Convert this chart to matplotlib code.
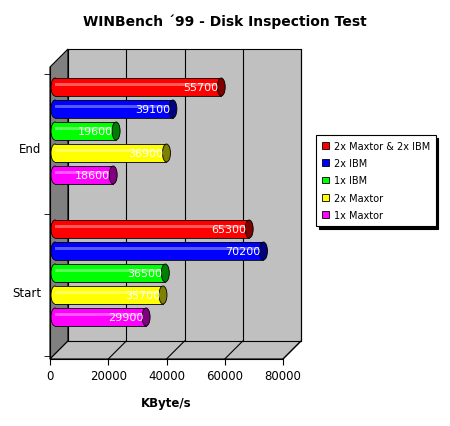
import matplotlib
matplotlib.use("Agg")
import matplotlib.pyplot as plt
from matplotlib.patches import Polygon, Rectangle, Ellipse

categories = ["End", "Start"]
series = ["2x Maxtor & 2x IBM", "2x IBM", "1x IBM", "2x Maxtor", "1x Maxtor"]
colors = ["#ff0000", "#0000ff", "#00ff00", "#ffff00", "#ff00ff"]
dark = ["#800000", "#000080", "#008000", "#808000", "#800080"]
values = {
    "End": [55700, 39100, 19600, 36900, 18600],
    "Start": [65300, 70200, 36500, 35700, 29900],
}

W, H = 450, 427
fig = plt.figure(figsize=(W / 100, H / 100), dpi=100)
ax = fig.add_axes([50 / W, 67 / H, 233 / W, 292 / H])
ax.set_xlim(0, 80000)
ax.set_ylim(0, 292)
px = 80000 / 233
dx, dy = 18 * px, 18

# walls
ax.add_patch(Polygon([(0, 0), (dx, dy), (dx, 292 + dy), (0, 292)], closed=True,
                     fc="#808080", ec="black", lw=0.8, clip_on=False, zorder=0.1))
ax.add_patch(Polygon([(0, 0), (80000, 0), (80000 + dx, dy), (dx, dy)], closed=True,
                     fc="#c0c0c0", ec="black", lw=0.8, clip_on=False, zorder=0.1))
ax.add_patch(Rectangle((dx, dy), 80000, 292, fc="#c0c0c0", ec="black", lw=0.8,
                       clip_on=False, zorder=0.1))
for v in range(20000, 80001, 20000):
    ax.plot([v + dx, v + dx], [dy, 292 + dy], color="black", lw=0.8, clip_on=False, zorder=0.2)
    ax.plot([v, v + dx], [0, dy], color="black", lw=0.8, clip_on=False, zorder=0.2)

# cylinders
centers = {"End": [263, 241, 219, 197, 175], "Start": [121, 99, 77, 55, 33]}
h = 18
ox, oy = 9 * px, 9
cap = 8 * px
for cat in categories:
    for i, s in enumerate(series):
        v = values[cat][i]
        y = centers[cat][i] + oy - h / 2
        x0 = 5 * px
        z = 2 + i * 0.1
        ax.add_patch(Ellipse((x0, y + h / 2), cap, h, fc=colors[i], ec="black", lw=0.6,
                             clip_on=False, zorder=z))
        ax.add_patch(Rectangle((x0, y), v + ox - x0, h, fc=colors[i], ec="none",
                               clip_on=False, zorder=z))
        ax.plot([x0, v + ox], [y, y], color="black", lw=0.6, clip_on=False, zorder=z)
        ax.plot([x0, v + ox], [y + h, y + h], color="black", lw=0.6, clip_on=False, zorder=z)
        ax.add_patch(Rectangle((x0, y + h * 0.55), v + ox - x0, h * 0.2, fc="white",
                               alpha=0.35, ec="none", clip_on=False, zorder=z))
        ax.add_patch(Ellipse((v + ox, y + h / 2), cap, h, fc=dark[i], ec="black", lw=0.6,
                             clip_on=False, zorder=z))
        ax.text(v + ox - 3 * px, y + h / 2, str(v), color="white", fontsize=8,
                ha="right", va="center", zorder=z + 0.05)

for s in ["top", "right", "left", "bottom"]:
    ax.spines[s].set_visible(False)
ax.plot([0, 0], [0, 292], color="black", lw=0.8, clip_on=False)
ax.plot([0, 80000], [0, 0], color="black", lw=0.8, clip_on=False)
ax.set_xticks(range(0, 80001, 20000))
ax.tick_params(axis="x", labelsize=8.5, length=4)
ax.set_yticks([3, 145, 285], minor=True)
ax.set_yticks([212, 68], categories)
ax.tick_params(axis="y", which="major", length=0, labelsize=8.5, pad=6)
ax.tick_params(axis="y", which="minor", length=4)
ax.set_xlabel("KByte/s", fontsize=8.5, fontweight="bold", labelpad=10)

fig.text(225 / W, 1 - 22 / H, "WINBench ´99 - Disk Inspection Test", ha="center",
         va="center", fontsize=10, fontweight="bold")

handles = [Rectangle((0, 0), 1, 1, fc=c, ec="black", lw=0.6) for c in colors]
leg = fig.legend(handles, series, loc="upper left", bbox_to_anchor=(316 / W, 1 - 136 / H),
                 fontsize=7, frameon=True, fancybox=False, shadow={"ox": 2, "oy": -2, "alpha": 1, "color": "black"},
                 edgecolor="black", handlelength=0.7, handleheight=0.7, borderpad=0.6,
                 labelspacing=0.75, handletextpad=0.5, borderaxespad=0)
leg.get_frame().set_linewidth(0.8)

fig.savefig("out.png", dpi=100, facecolor="white")
